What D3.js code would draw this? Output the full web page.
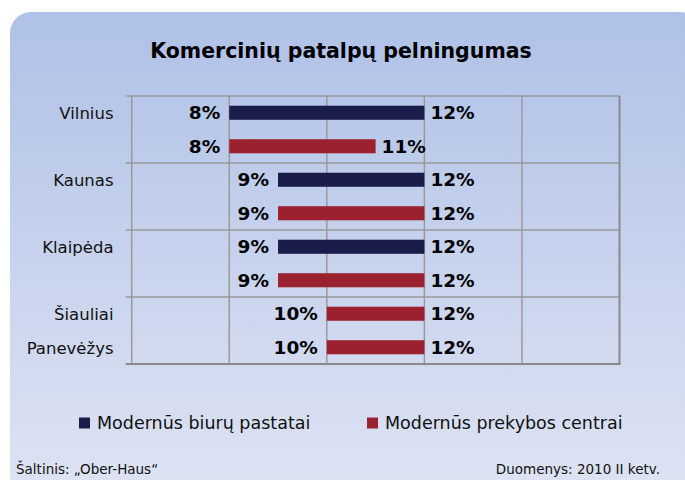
<!DOCTYPE html>
<html>
<head>
<meta charset="utf-8">
<script src="https://cdn.jsdelivr.net/npm/d3@7/dist/d3.min.js"></script>
<style>
  html, body { margin: 0; padding: 0; background: #ffffff; }
  svg { display: block; }
  text { font-family: "DejaVu Sans", Verdana, sans-serif; }
</style>
</head>
<body>
<svg id="chart" width="685" height="480"></svg>
<script>
// ---- data ----
const rowLabels   = ["Vilnius", "", "Kaunas", "", "Klaipėda", "", "Šiauliai", "Panevėžys"];
const rowSeries   = ["office", "retail", "office", "retail", "office", "retail", "retail", "retail"];
const rowStart    = [8, 8, 9, 9, 9, 9, 10, 10];
const rowEnd      = [12, 11, 12, 12, 12, 12, 12, 12];
const seriesKeys  = ["office", "retail"];
const seriesNames = ["Modernūs biurų pastatai", "Modernūs prekybos centrai"];
const xTicks      = [6, 8, 10, 12, 14, 16];
const groupBounds = [0, 2, 4, 6, 8];
const titleText   = "Komercinių patalpų pelningumas";
const sourceText  = "Šaltinis: „Ober-Haus“";
const dateText    = "Duomenys: 2010 II ketv.";

// ---- layout ----
const svg = d3.select("#chart");
const colors = d3.scaleOrdinal().domain(seriesKeys).range(["#1a1d4b", "#9c2130"]);

const defs = svg.append("defs");
const grad = defs.append("linearGradient").attr("id", "bg").attr("x1", 0).attr("y1", 0).attr("x2", 0).attr("y2", 1);
grad.append("stop").attr("offset", "0%").attr("stop-color", "#afc1e7");
grad.append("stop").attr("offset", "100%").attr("stop-color", "#dfe4f3");

svg.append("rect")
  .attr("x", 10).attr("y", 12).attr("width", 690).attr("height", 490)
  .attr("rx", 21).attr("ry", 21)
  .attr("fill", "url(#bg)");

svg.append("text")
  .attr("x", 341).attr("y", 58)
  .attr("text-anchor", "middle")
  .attr("font-weight", "bold")
  .attr("font-size", "20.5px")
  .attr("fill", "#000")
  .text(titleText);

const x = d3.scaleLinear().domain([6, 16]).range([131.7, 619.5]);
const rowIdx = d3.range(rowLabels.length);
const y = d3.scaleBand().domain(rowIdx).range([96, 364]).paddingInner(0.58).paddingOuter(0.29);
const yLine = d3.scaleLinear().domain([0, rowLabels.length]).range([96, 364]);

// grid
const grid = svg.append("g");
grid.selectAll("line.v").data(xTicks.slice(0, -1)).join("line")
  .attr("x1", d => x(d)).attr("x2", d => x(d))
  .attr("y1", yLine(0)).attr("y2", yLine(8))
  .attr("stroke", "#9a9a9a").attr("stroke-width", 1.5);
grid.selectAll("line.h").data(groupBounds.slice(0, -1)).join("line")
  .attr("x1", x(6) - 6).attr("x2", x(16))
  .attr("y1", d => yLine(d)).attr("y2", d => yLine(d))
  .attr("stroke", "#9a9a9a").attr("stroke-width", 1.5);
// bottom & right border (darker)
grid.append("line")
  .attr("x1", x(6) - 6).attr("x2", x(16) + 1)
  .attr("y1", yLine(8)).attr("y2", yLine(8))
  .attr("stroke", "#8a8a8a").attr("stroke-width", 2);
grid.append("line")
  .attr("x1", x(16)).attr("x2", x(16))
  .attr("y1", yLine(0)).attr("y2", yLine(8))
  .attr("stroke", "#8a8a8a").attr("stroke-width", 2);

// bars
svg.append("g").selectAll("rect").data(rowIdx).join("rect")
  .attr("x", i => x(rowStart[i]))
  .attr("width", i => x(rowEnd[i]) - x(rowStart[i]))
  .attr("y", i => y(i))
  .attr("height", y.bandwidth())
  .attr("fill", i => colors(rowSeries[i]));

// value labels
const labels = svg.append("g").attr("font-weight", "bold").attr("font-size", "18.5px").attr("fill", "#000");
labels.selectAll("text.s").data(rowIdx).join("text")
  .attr("x", i => x(rowStart[i]) - 9)
  .attr("y", i => y(i) + y.bandwidth() / 2 + 6.7)
  .attr("text-anchor", "end")
  .text(i => rowStart[i] + "%");
labels.selectAll("text.e").data(rowIdx).join("text")
  .attr("x", i => x(rowEnd[i]) + 6)
  .attr("y", i => y(i) + y.bandwidth() / 2 + 6.7)
  .attr("text-anchor", "start")
  .text(i => rowEnd[i] + "%");

// category labels
svg.append("g").selectAll("text").data(rowIdx.filter(i => rowLabels[i])).join("text")
  .attr("x", 113.5)
  .attr("y", i => y(i) + y.bandwidth() / 2 + 6.5)
  .attr("text-anchor", "end")
  .attr("font-size", "16.5px")
  .attr("fill", "#111")
  .text(i => rowLabels[i]);

// legend
const legendX = [79, 367];
const lg = svg.append("g");
seriesKeys.forEach((k, j) => {
  lg.append("rect").attr("x", legendX[j]).attr("y", 417.5).attr("width", 11).attr("height", 11).attr("fill", colors(k));
  lg.append("text").attr("x", legendX[j] + 18).attr("y", 428.5)
    .attr("font-size", "17.5px").attr("fill", "#111").text(seriesNames[j]);
});

// footer
svg.append("text").attr("x", 16).attr("y", 474).attr("font-size", "13.5px").attr("fill", "#111").text(sourceText);
svg.append("text").attr("x", 660).attr("y", 473.5).attr("text-anchor", "end").attr("font-size", "13.5px").attr("fill", "#111").text(dateText);
</script>
</body>
</html>
